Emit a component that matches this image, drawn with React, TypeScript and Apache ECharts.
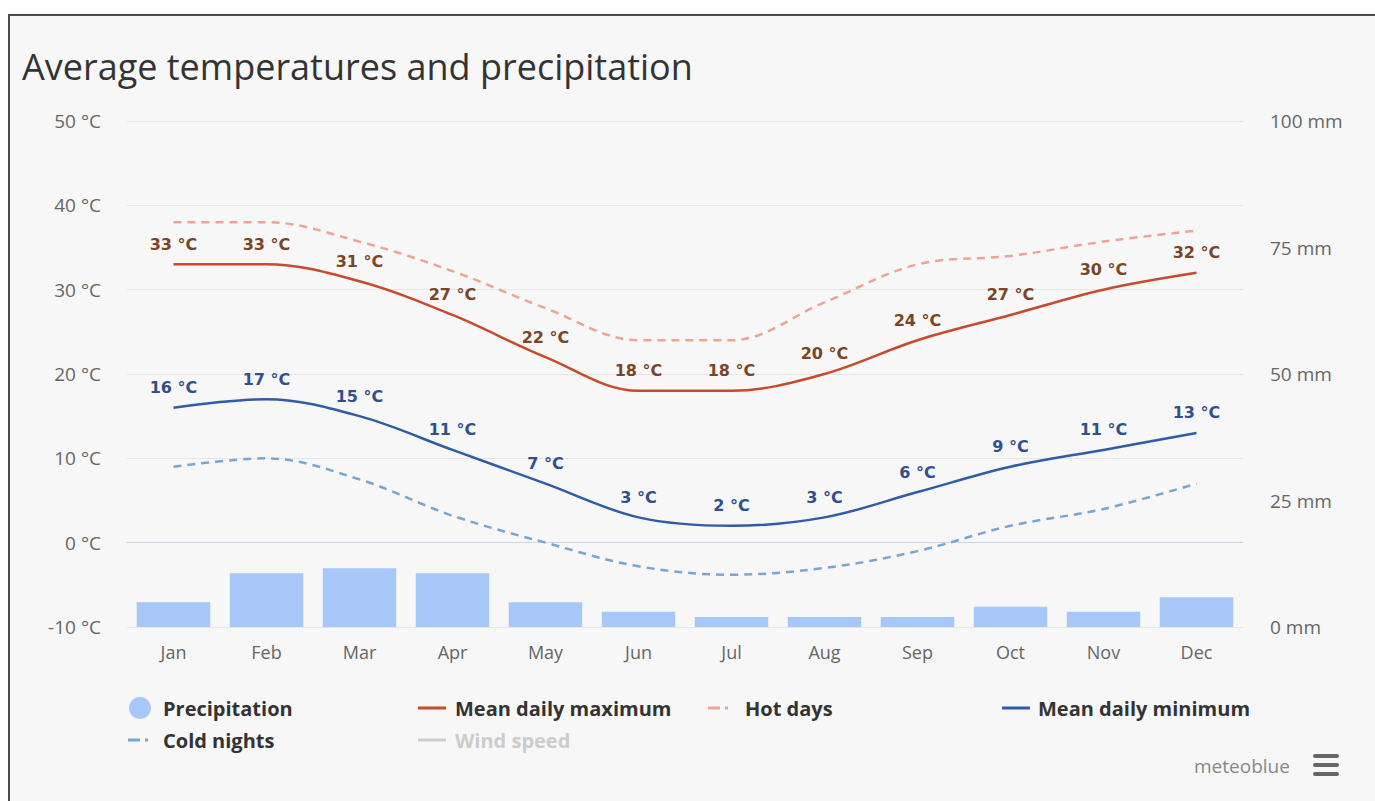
import React, { useEffect, useRef } from "react";
import * as echarts from "echarts";

const months = ["Jan", "Feb", "Mar", "Apr", "May", "Jun", "Jul", "Aug", "Sep", "Oct", "Nov", "Dec"];
const precipitation = [4.9, 10.6, 11.6, 10.6, 4.9, 3, 2, 2, 2, 4, 3, 5.9];
const meanMax = [33, 33, 31, 27, 22, 18, 18, 20, 24, 27, 30, 32];
const hotDays = [38, 38, 35.7, 32.2, 27.8, 24, 24, 28.5, 33, 34, 35.7, 37];
const meanMin = [16, 17, 15, 11, 7, 3, 2, 3, 6, 9, 11, 13];
const coldNights = [9, 10, 7.5, 3.2, 0, -2.8, -3.8, -3, -1, 2, 4, 7];
const windSpeed: number[] = [];

const FONT = "'Open Sans', 'Noto Sans', sans-serif";
const LABEL_FONT = "'DejaVu Sans', sans-serif";

const SOLID_ICON = "path://M0,0H28V3H0Z";
const DASHDOT_ICON = "path://M0,0H12V3H0Z M17,0H20V3H17Z";

const legendText = (pad: number) => ({
  fontFamily: FONT,
  fontSize: 20,
  fontWeight: "bold" as const,
  color: "#333333",
  padding: [0, 0, 0, pad],
});

const legendBase = {
  orient: "horizontal" as const,
  padding: 0,
  itemGap: 0,
  inactiveColor: "#cccccc",
  itemStyle: { borderWidth: 0 },
};

export default function App() {
  const ref = useRef<HTMLDivElement>(null);

  useEffect(() => {
    if (!ref.current) return;
    const chart = echarts.init(ref.current, undefined, { renderer: "svg" });
    const option: any = {
      animation: false,
      backgroundColor: "transparent",
      title: {
        text: "Average temperatures and precipitation",
        left: 22,
        top: 48,
        padding: 0,
        textStyle: { fontFamily: FONT, fontSize: 36, fontWeight: "normal", color: "#333333" },
      },
      grid: { left: 127, right: 132, top: 121, bottom: 174, containLabel: false },
      legend: [
        {
          ...legendBase,
          left: 129,
          top: 697,
          itemWidth: 22,
          itemHeight: 22,
          data: [{ name: "Precipitation", icon: "circle" }],
          textStyle: legendText(7),
        },
        {
          ...legendBase,
          left: 418,
          top: 698,
          itemWidth: 28,
          itemHeight: 3,
          data: [{ name: "Mean daily maximum", icon: SOLID_ICON }],
          textStyle: legendText(4),
        },
        {
          ...legendBase,
          left: 708,
          top: 698,
          itemWidth: 20,
          itemHeight: 3,
          data: [{ name: "Hot days", icon: DASHDOT_ICON }],
          textStyle: legendText(12),
        },
        {
          ...legendBase,
          left: 1002,
          top: 698,
          itemWidth: 28,
          itemHeight: 3,
          data: [{ name: "Mean daily minimum", icon: SOLID_ICON }],
          textStyle: legendText(3),
        },
        {
          ...legendBase,
          left: 128,
          top: 730,
          itemWidth: 20,
          itemHeight: 3,
          data: [{ name: "Cold nights", icon: DASHDOT_ICON }],
          textStyle: legendText(10),
        },
        {
          ...legendBase,
          left: 418,
          top: 730,
          itemWidth: 28,
          itemHeight: 3,
          data: [{ name: "Wind speed", icon: SOLID_ICON }],
          selected: { "Wind speed": false },
          textStyle: legendText(4),
        },
      ],
      xAxis: {
        type: "category",
        data: months,
        boundaryGap: true,
        axisTick: { show: false },
        axisLine: { lineStyle: { color: "#ccd6eb", width: 1 } },
        axisLabel: { color: "#666666", fontSize: 18, fontFamily: FONT, margin: 16 },
        splitLine: { show: false },
      },
      yAxis: [
        {
          type: "value",
          min: -10,
          max: 50,
          interval: 10,
          axisLine: { show: false },
          axisTick: { show: false },
          axisLabel: { formatter: "{value} °C", color: "#666666", fontSize: 19, fontFamily: FONT, margin: 26 },
          splitLine: { lineStyle: { color: "#e6e6e6", width: 1 } },
        },
        {
          type: "value",
          min: 0,
          max: 100,
          interval: 25,
          position: "right",
          axisLine: { show: false },
          axisTick: { show: false },
          axisLabel: { formatter: "{value} mm", color: "#666666", fontSize: 19, fontFamily: FONT, margin: 27 },
          splitLine: { show: false },
        },
      ],
      series: [
        {
          name: "Precipitation",
          type: "bar",
          yAxisIndex: 1,
          data: precipitation,
          barCategoryGap: "21%",
          color: "#a7c7f9",
          itemStyle: { color: "#a7c7f9" },
          z: 1,
        },
        {
          name: "Hot days",
          type: "line",
          data: hotDays,
          smooth: 0.35,
          symbol: "none",
          color: "#efa395",
          lineStyle: { width: 2.5, type: [8, 6], color: "#efa395" },
          z: 2,
        },
        {
          name: "Cold nights",
          type: "line",
          data: coldNights,
          smooth: 0.35,
          symbol: "none",
          color: "#78a6d2",
          lineStyle: { width: 2.5, type: [8, 6], color: "#78a6d2" },
          z: 2,
        },
        {
          name: "Mean daily maximum",
          type: "line",
          data: meanMax,
          smooth: 0.35,
          symbol: "circle",
          symbolSize: 0.1,
          showSymbol: true,
          color: "#c9492b",
          lineStyle: { width: 2.5, color: "#c9492b" },
          label: {
            show: true,
            position: "top",
            distance: 12,
            formatter: "{c} °C",
            color: "#7a4526",
            fontWeight: "bold",
            fontSize: 16,
            fontFamily: LABEL_FONT,
          },
          z: 3,
        },
        {
          name: "Mean daily minimum",
          type: "line",
          data: meanMin,
          smooth: 0.35,
          symbol: "circle",
          symbolSize: 0.1,
          showSymbol: true,
          color: "#2f5ca6",
          lineStyle: { width: 2.5, color: "#2f5ca6" },
          label: {
            show: true,
            position: "top",
            distance: 12,
            formatter: "{c} °C",
            color: "#2f4f8f",
            fontWeight: "bold",
            fontSize: 16,
            fontFamily: LABEL_FONT,
          },
          z: 3,
        },
        {
          name: "Wind speed",
          type: "line",
          data: windSpeed,
          symbol: "none",
          color: "#999999",
          lineStyle: { width: 2, color: "#999999" },
        },
      ],
      graphic: [
        {
          type: "text",
          x: 1194,
          y: 766,
          style: {
            text: "meteoblue",
            fontFamily: FONT,
            fontSize: 19,
            fill: "#888888",
            verticalAlign: "middle",
          },
        },
        { type: "rect", shape: { x: 1313, y: 754, width: 26, height: 4, r: 2 }, style: { fill: "#666666" } },
        { type: "rect", shape: { x: 1313, y: 763, width: 26, height: 4, r: 2 }, style: { fill: "#666666" } },
        { type: "rect", shape: { x: 1313, y: 772, width: 26, height: 4, r: 2 }, style: { fill: "#666666" } },
      ],
    };
    chart.setOption(option);
    return () => chart.dispose();
  }, []);

  return (
    <div
      style={{
        position: "fixed",
        left: 0,
        top: 0,
        width: 1375,
        height: 801,
        overflow: "hidden",
        background: "#ffffff",
      }}
    >
      <div
        style={{
          position: "absolute",
          left: 8,
          top: 14,
          width: 1400,
          height: 820,
          border: "2px solid #4a4a4a",
          background: "#f7f7f7",
        }}
      />
      <div ref={ref} style={{ position: "absolute", left: 0, top: 0, width: 1375, height: 801 }} />
    </div>
  );
}
